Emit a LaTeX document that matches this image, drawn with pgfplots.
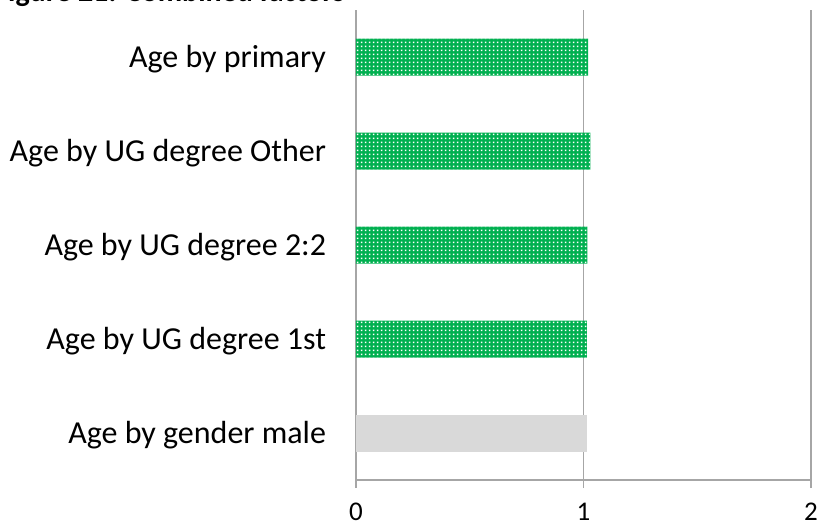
\documentclass[border=0pt]{standalone}
\usepackage{fontspec}
\setmainfont{Carlito}
\usepackage{pgfplots}
\pgfplotsset{compat=1.18}
\usetikzlibrary{patterns.meta}
\definecolor{barGreen}{HTML}{00B050}
\definecolor{barGray}{HTML}{D9D9D9}
\definecolor{axGray}{HTML}{A6A6A6}
\tikzdeclarepattern{
  name=mydots,
  type=uncolored,
  bottom left={(0pt,0pt)},
  top right={(2pt,2pt)},
  tile size={(2pt,2pt)},
  code={\fill (0.5pt,0.5pt) rectangle (1.5pt,1.5pt);}
}
\begin{document}
\begin{tikzpicture}
\begin{axis}[
  at={(0,0)}, anchor=south west,
  scale only axis,
  width=227.5pt, height=235pt,
  xbar, bar width=18.5pt, bar shift=0pt,
  xmin=0, xmax=2,
  ymin=-0.5, ymax=4.5,
  axis lines=left,
  axis line style={draw=axGray, line width=0.8pt, -},
  xtick={0,1,2},
  xmajorgrids,
  grid style={axGray, line width=0.8pt},
  tick align=outside,
  major tick length=4pt,
  x tick style={axGray, line width=0.8pt},
  ytick={0,1,2,3,4},
  yticklabels={Age by gender male, Age by UG degree 1st, Age by UG degree 2:2, Age by UG degree Other, Age by primary},
  y tick style={draw=none},
  minor ytick={-0.5,0.5,1.5,2.5,3.5,4.5},
  minor tick length=4.5pt,
  minor y tick style={axGray, line width=0.8pt},
  yticklabel style={font=\fontsize{16}{19}\selectfont, black, xshift=-7.5pt, yshift=-1pt},
  xticklabel style={font=\fontsize{13.5}{16}\selectfont, black, yshift=-5.5pt, inner sep=2pt},
  /pgf/number format/assume math mode=true,
  clip=false,
]
\addplot[draw=none, fill=barGreen, postaction={pattern=mydots, pattern color=white}]
  coordinates {(1.015,1) (1.017,2) (1.03,3) (1.02,4)};
\addplot[draw=none, fill=barGray]
  coordinates {(1.015,0)};
\end{axis}
\node[anchor=base east, font=\bfseries\fontsize{15}{18}\selectfont, inner sep=0pt] at (-5.5pt,239.5pt) {Figure 21: Combined factors};
\pgfresetboundingbox
\useasboundingbox (-178pt,-23.5pt) rectangle (230.5pt,240pt);
\end{tikzpicture}
\end{document}
